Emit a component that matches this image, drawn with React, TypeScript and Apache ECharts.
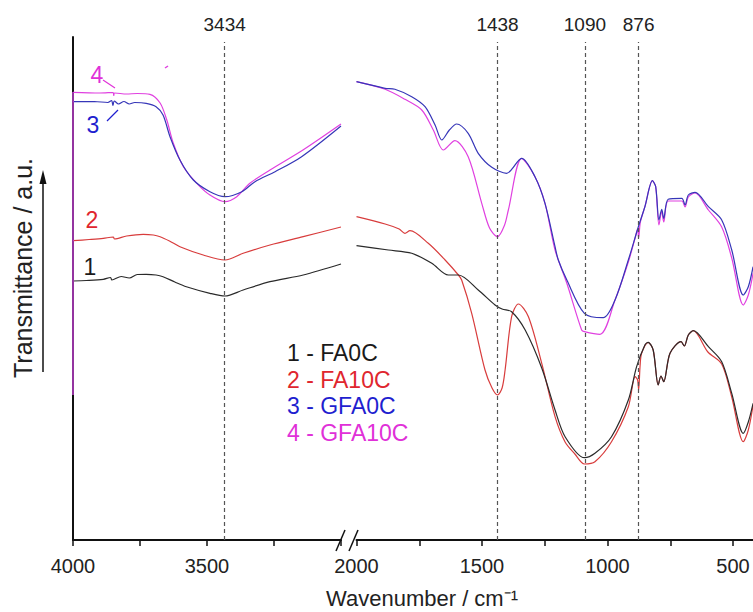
import React, { useEffect, useRef } from "react";
import * as echarts from "echarts";

// ---- Data (wavenumber cm-1, transmittance a.u.) ----
const fa0cLeft = [[4000,259],[3950,259.5],[3887,260.7],[3860,262.5],[3855,260],[3820,263.5],[3790,262],[3760,265.5],[3727,265.7],[3690,265],[3664,263.3],[3620,258],[3577,253.3],[3489,246.7],[3433,244],[3365,250],[3265,258.3],[3141,265],[3000,276]];
const fa10cLeft = [[4000,299.3],[3940,300.5],[3887,301.7],[3850,303],[3845,301],[3800,304],[3738,305.7],[3700,305],[3675,303.3],[3640,299],[3601,293.3],[3514,285],[3433,280],[3365,286.7],[3265,295],[3141,303.3],[3000,313]];
const gfa0cLeft = [[4000,438.3],[3920,438.5],[3870,437.5],[3856,439.5],[3851,434.5],[3846,439],[3830,436],[3810,438.5],[3790,436],[3770,437.5],[3727,436.7],[3690,433.3],[3664,425],[3638,403.3],[3601,380],[3551,360],[3489,348.3],[3433,343.3],[3370,348.3],[3321,358.3],[3246,368.3],[3147,383.3],[3000,414]];
const gfa10cLeft = [[4000,447.7],[3900,447],[3850,447.5],[3848,444.5],[3845,447],[3800,446],[3760,446.5],[3713,445.7],[3675,437],[3650,420],[3626,397],[3588,373.3],[3538,356.7],[3489,345],[3433,338.3],[3389,343.3],[3340,356.7],[3265,370],[3142,390],[3000,416]];

const fa0cRight = [[2000,294.3],[1873,290],[1780,286.7],[1700,276.7],[1634,265],[1594,265],[1515,250],[1448,235],[1420,231],[1382,228.3],[1328,210],[1262,172],[1209,130],[1169,103.3],[1092,82.3],[1050,86.7],[984,103.3],[917,140],[884,173.3],[851,195],[838,197.7],[818,190],[798,155],[787,164],[776,158.3],[751,186.7],[707,198.3],[694,194],[678,205],[658,209.3],[598,193.3],[545,178.3],[505,146.7],[459,106.7],[439,118],[420,136.7]];
const fa10cRight = [[2000,323.3],[1886,316],[1830,311],[1807,306.7],[1787,309.3],[1714,296.7],[1647,280],[1594,265],[1581,260],[1541,226.7],[1488,170],[1460,152],[1438,145],[1420,152],[1408,170],[1382,223.3],[1355,236],[1315,223.3],[1262,176.7],[1209,123.3],[1169,98],[1130,86],[1092,76],[1050,78.3],[984,98.3],[917,133.3],[890,163.3],[880,160],[876,150],[870,175],[864,186.7],[838,197.7],[818,190],[798,155],[787,164],[776,158.3],[751,186.7],[707,198.3],[694,194],[678,205],[658,209.3],[600,188],[545,176],[505,143],[459,98.3],[439,110],[420,135]];
const gfa0cRight = [[2000,458.3],[1886,451.7],[1847,450.7],[1780,443.3],[1727,433.3],[1687,415],[1660,400],[1630,410],[1601,416],[1555,406.7],[1515,386.7],[1461,372.7],[1402,366.7],[1342,381.7],[1289,363.3],[1249,336.7],[1209,293.3],[1196,280],[1162,260],[1092,226.7],[1017,222.3],[970,240],[917,280],[877,313.3],[851,333.3],[821,359.3],[808,353.3],[795,320],[784,330.7],[776,321.7],[758,340.7],[704,341.7],[691,335],[678,345],[651,347.7],[598,333.3],[545,320],[505,290],[459,245],[439,253.3],[420,273.3]];
const gfa10cRight = [[2000,458.3],[1886,450.7],[1807,440.7],[1740,430],[1694,410],[1654,390],[1608,399.3],[1555,383.3],[1501,336.7],[1470,312],[1438,303.3],[1410,315],[1395,330],[1342,381.7],[1289,363.3],[1249,336.7],[1209,290],[1162,256.7],[1103,210],[1092,208.3],[1030,205.7],[970,240],[917,278],[890,302],[880,311],[876,302],[869,318],[851,333.3],[821,359.3],[808,353.3],[795,315],[784,329],[776,318],[758,339],[704,339],[691,333],[678,343],[651,347],[598,330],[545,313],[505,282],[459,235],[439,245],[420,266.7]];

const leftMarks = [3434];
const rightMarks = [1438, 1090, 876];
const legendLabels = ["1 - FA0C", "2 - FA10C", "3 - GFA0C", "4 - GFA10C"];
const colors = ["#2a2a2a", "#d83c3c", "#3636b8", "#e040e0"];
const legendColors = ["#1a1a1a", "#e0262e", "#1f1fcf", "#e030d8"];

const FONT = "'Liberation Sans', Arial, sans-serif";

export default function App() {
  const ref = useRef<HTMLDivElement>(null);
  useEffect(() => {
    if (!ref.current) return;
    const chart = echarts.init(ref.current, undefined, { renderer: "svg" });

    const mkLine = (vals: number[]) => ({
      symbol: "none",
      silent: true,
      lineStyle: { type: [4, 3], color: "#555", width: 1.2 },
      label: {
        show: true,
        position: "end",
        formatter: "{b}",
        fontSize: 19,
        color: "#222",
        fontFamily: FONT,
        distance: 8,
      },
      data: vals.map((v) => [
        { name: String(v), coord: [v, 0] },
        { coord: [v, 498] },
      ]),
    });

    const seriesDefs = [
      { data: fa10cLeft, c: 1, g: 0 },
      { data: fa0cLeft, c: 0, g: 0, ml: mkLine(leftMarks) },
      { data: gfa10cLeft, c: 3, g: 0 },
      { data: gfa0cLeft, c: 2, g: 0 },
      { data: fa10cRight, c: 1, g: 1 },
      { data: fa0cRight, c: 0, g: 1, ml: mkLine(rightMarks) },
      { data: gfa10cRight, c: 3, g: 1 },
      { data: gfa0cRight, c: 2, g: 1 },
    ];

    const series = seriesDefs.map((s) => ({
      type: "line",
      xAxisIndex: s.g,
      yAxisIndex: s.g,
      data: s.data,
      showSymbol: false,
      symbol: "none",
      smooth: 0.3,
      lineStyle: { color: colors[s.c], width: 1.2 },
      markLine: s.ml,
      z: 3,
    }));

    const axisCommon = {
      type: "value",
      inverse: true,
      interval: 250,
      axisLine: { show: true, lineStyle: { color: "#111", width: 2 } },
      axisTick: { show: true, inside: false, length: 6, lineStyle: { color: "#111", width: 1.5 } },
      splitLine: { show: false },
      axisLabel: {
        fontSize: 20,
        color: "#222",
        fontFamily: FONT,
        margin: 16,
      },
    };

    const graphic: any[] = [
      {
        type: "text",
        x: 23,
        y: 268,
        rotation: Math.PI / 2,
        style: {
          text: "Transmittance / a.u.",
          fontSize: 25,
          fontFamily: FONT,
          fill: "#222",
          textAlign: "center",
          textVerticalAlign: "middle",
        },
      },
      { type: "line", shape: { x1: 43, y1: 372, x2: 43, y2: 182 }, style: { stroke: "#111", lineWidth: 1.5 } },
      { type: "polygon", shape: { points: [[43, 170], [39.5, 184], [46.5, 184]] }, style: { fill: "#111" } },
      {
        type: "text",
        x: 422,
        y: 598,
        style: {
          text: "Wavenumber / cm\u207B\u00B9",
          fontSize: 22,
          fontFamily: FONT,
          fill: "#222",
          textAlign: "center",
          textVerticalAlign: "middle",
        },
      },
      // axis break marks
      { type: "line", shape: { x1: 336, y1: 551, x2: 345, y2: 530 }, style: { stroke: "#111", lineWidth: 1.5 } },
      { type: "line", shape: { x1: 349, y1: 551, x2: 358, y2: 530 }, style: { stroke: "#111", lineWidth: 1.5 } },
      // magenta overlay on y axis
      { type: "line", shape: { x1: 73, y1: 92, x2: 73, y2: 395 }, style: { stroke: "#c040d0", lineWidth: 1.5 }, z: 10 },
      { type: "line", shape: { x1: 165, y1: 68, x2: 168, y2: 66 }, style: { stroke: "#e040e0", lineWidth: 1.5 } },
      // curve numbers
      { type: "text", x: 97, y: 75, style: { text: "4", fontSize: 23, fontFamily: FONT, fill: legendColors[3], textAlign: "center", textVerticalAlign: "middle" } },
      { type: "line", shape: { x1: 103, y1: 80, x2: 115, y2: 88 }, style: { stroke: legendColors[3], lineWidth: 1.2 } },
      { type: "text", x: 93, y: 125, style: { text: "3", fontSize: 23, fontFamily: FONT, fill: legendColors[2], textAlign: "center", textVerticalAlign: "middle" } },
      { type: "line", shape: { x1: 107, y1: 121, x2: 118, y2: 110 }, style: { stroke: legendColors[2], lineWidth: 1.2 } },
      { type: "text", x: 92, y: 220, style: { text: "2", fontSize: 23, fontFamily: FONT, fill: legendColors[1], textAlign: "center", textVerticalAlign: "middle" } },
      { type: "text", x: 90, y: 267, style: { text: "1", fontSize: 23, fontFamily: FONT, fill: legendColors[0], textAlign: "center", textVerticalAlign: "middle" } },
    ];
    legendLabels.forEach((t, i) => {
      graphic.push({
        type: "text",
        x: 287,
        y: 353 + i * 26.7,
        style: { text: t, fontSize: 23, fontFamily: FONT, fill: legendColors[i], textAlign: "left", textVerticalAlign: "middle" },
      });
    });

    chart.setOption({
      animation: false,
      backgroundColor: "#fff",
      grid: [
        { left: 73, top: 37, width: 268, height: 503, outerBoundsMode: "none", containLabel: false },
        { left: 356.5, top: 37, width: 502, height: 503, outerBoundsMode: "none", containLabel: false },
      ],
      xAxis: [
        {
          ...axisCommon,
          gridIndex: 0,
          min: 3000,
          max: 4000,
          axisLabel: {
            ...axisCommon.axisLabel,
            formatter: (v: number) => (v % 500 === 0 && v !== 3000 ? String(v) : ""),
          },
        },
        {
          ...axisCommon,
          gridIndex: 1,
          min: 0,
          max: 2000,
          axisLabel: {
            ...axisCommon.axisLabel,
            formatter: (v: number) => (v % 500 === 0 && v !== 0 ? String(v) : ""),
          },
        },
      ],
      yAxis: [
        {
          type: "value",
          gridIndex: 0,
          min: 0,
          max: 503,
          axisLine: { show: true, onZero: false, lineStyle: { color: "#111", width: 2 } },
          axisTick: { show: false },
          axisLabel: { show: false },
          splitLine: { show: false },
        },
        {
          type: "value",
          gridIndex: 1,
          min: 0,
          max: 503,
          show: false,
          splitLine: { show: false },
        },
      ],
      series,
      graphic,
    });
    return () => chart.dispose();
  }, []);
  return <div ref={ref} style={{ position: "absolute", left: 0, top: 0, width: 753, height: 612 }} />;
}
